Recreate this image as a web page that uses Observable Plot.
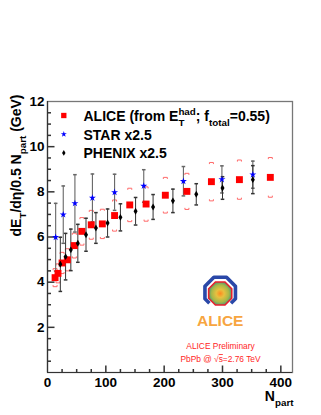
<!DOCTYPE html>
<html><head><meta charset="utf-8">
<script src="https://cdn.jsdelivr.net/npm/d3@7"></script>
<script src="https://cdn.jsdelivr.net/npm/@observablehq/plot@0.6"></script>
<style>body{margin:0;background:#fff;} svg{display:block;}</style>
</head><body><div id="chart"></div>
<script>
// ---- data ----
const aliceNpart = [13, 18, 25, 34, 46, 59, 75, 94, 115, 141, 169, 202, 239, 281, 329, 382];
const aliceEt    = [4.20, 4.39, 4.85, 4.99, 5.62, 6.25, 6.54, 6.58, 6.95, 7.42, 7.46, 7.85, 8.02, 8.45, 8.54, 8.64];
const aliceSys   = [0.40, 0.42, 0.47, 0.49, 0.55, 0.61, 0.64, 0.65, 0.69, 0.74, 0.76, 0.79, 0.80, 0.85, 0.87, 0.88];
const starNpart  = [14, 27, 47, 77, 115, 165, 233, 299, 352];
const starEt     = [5.99, 6.99, 7.49, 7.73, 7.98, 8.26, 8.47, 8.55, 8.76];
const starErr    = [1.50, 1.27, 1.27, 1.06, 0.80, 0.72, 0.65, 0.60, 0.60];
const phenixNpart = [22, 31, 40, 52, 66, 83, 103, 125, 151, 181, 215, 255, 300, 352];
const phenixEt    = [4.79, 5.13, 5.43, 5.72, 6.10, 6.40, 6.62, 6.87, 7.14, 7.33, 7.60, 7.89, 8.17, 8.54];
const phenixErr   = [1.20, 1.03, 0.92, 0.84, 0.73, 0.68, 0.62, 0.60, 0.61, 0.55, 0.52, 0.47, 0.50, 0.62];

const xTickLabels = [0, 100, 200, 300, 400];
const yTickLabels = [2, 4, 6, 8, 10, 12];
const legendLabels = ["ALICE (from E_{T}^{had}; f_{total}=0.55)", "STAR x2.5", "PHENIX x2.5"];
const legendColors = ["#ff0000", "#0000ff", "#000000"];
const legendSymbols = ["square", "star", "diamond"];
const yTitle = "dE_{T}/dη/0.5 N_{part} (GeV)";
const xTitle = "N_{part}";
const noteLines = ["ALICE Preliminary", "PbPb @ √~{s}=2.76 TeV"];
const logoText = "ALICE";

// ---- tables ----
const aliceRows = aliceNpart.map((n, i) => ({n, y: aliceEt[i], sys: aliceSys[i]}));
const starRows = starNpart.map((n, i) => ({n, y: starEt[i], e: starErr[i]}));
const phenixRows = phenixNpart.map((n, i) => ({n, y: phenixEt[i], e: phenixErr[i]}));

const xMinor = d3.range(25, 420, 25).filter(v => v % 100 !== 0);
const yMinor = d3.range(0.5, 12, 0.5).filter(v => v % 2 !== 0);
const xMajor = d3.range(100, 420, 100);
const yMajor = d3.range(2, 12, 2);

// ---- custom symbols ----
const L = s => Math.sqrt(s / Math.PI);
const tickUp = {draw(c, s) { const l = L(s); c.moveTo(0, 0); c.lineTo(0, -l); }};
const tickRight = {draw(c, s) { const l = L(s); c.moveTo(0, 0); c.lineTo(l, 0); }};
const capH = {draw(c, s) { const l = L(s); c.moveTo(-l, 0); c.lineTo(l, 0); }};
const bracketTop = {draw(c, s) { const l = L(s); c.moveTo(-l, 0.8 * l); c.lineTo(-l, 0); c.lineTo(l, 0); c.lineTo(l, 0.8 * l); }};
const bracketBottom = {draw(c, s) { const l = L(s); c.moveTo(-l, -0.8 * l); c.lineTo(-l, 0); c.lineTo(l, 0); c.lineTo(l, -0.8 * l); }};
const oct = (R, k) => { const a = (22.5 + 45 * k) * Math.PI / 180; return [R * Math.cos(a), R * Math.sin(a)]; };
const octagon = {draw(c, s) { const R = L(s); for (let k = 0; k < 8; k++) { const [x, y] = oct(R, k); k ? c.lineTo(x, y) : c.moveTo(x, y); } c.closePath(); }};
const hood = {draw(c, s) {
  const R = L(s);
  const [x2, y2] = oct(R, 2), [x3, y3] = oct(R, 3), [x0, y0] = oct(R, 0), [x1, y1] = oct(R, 1);
  c.moveTo((x2 + x3) / 2, (y2 + y3) / 2);
  for (const k of [3, 4, 5, 6, 7, 0]) { const [x, y] = oct(R, k); c.lineTo(x, y); }
  c.lineTo((x0 + x1) / 2, (y0 + y1) / 2);
}};

const FONT = "'Liberation Sans', Arial, Helvetica, sans-serif";
const RED = "#ff2626";

const legendMarks = legendLabels.flatMap((lab, i) => [
  Plot.dot([lab], {frameAnchor: "top-left", dx: 16.3, dy: 14 + i * 18.7, symbol: legendSymbols[i],
    r: [3, 1.9, 1.8][i], fill: legendColors[i]}),
  Plot.text([lab], {text: d => d, frameAnchor: "top-left", dx: 36, dy: 19.5 + i * 18.7,
    textAnchor: "start", lineAnchor: "bottom", fontSize: 14, fontWeight: "bold", fill: "#000"})
]);

const chart = Plot.plot({
  width: 321, height: 415,
  marginLeft: 47, marginRight: 29, marginTop: 101, marginBottom: 43,
  x: {domain: [0, 420]},
  y: {domain: [0, 12]},
  style: {fontFamily: FONT, background: "#fff", color: "#000", overflow: "visible"},
  marks: [
    Plot.frame({stroke: "#777", strokeWidth: 1.3}),
    Plot.ruleX([0], {stroke: "#333", strokeWidth: 1.2}),
    Plot.ruleY([0], {stroke: "#333", strokeWidth: 1.2}),
    // ticks (inward)
    Plot.dot(xMajor, {x: d => d, frameAnchor: "bottom", symbol: tickUp, r: 7, stroke: "#333", fill: "none"}),
    Plot.dot(xMinor, {x: d => d, frameAnchor: "bottom", symbol: tickUp, r: 3.5, stroke: "#333", fill: "none"}),
    Plot.dot(yMajor, {y: d => d, frameAnchor: "left", symbol: tickRight, r: 7, stroke: "#333", fill: "none"}),
    Plot.dot(yMinor, {y: d => d, frameAnchor: "left", symbol: tickRight, r: 3.5, stroke: "#333", fill: "none"}),
    Plot.axisX({ticks: xTickLabels, tickSize: 0, tickPadding: 5, fontSize: 13.5, fontWeight: "bold", label: null}),
    Plot.axisY({ticks: yTickLabels, tickSize: 0, tickPadding: 3, fontSize: 13.5, fontWeight: "bold", label: null}),
    // ALICE systematic brackets
    Plot.dot(aliceRows, {x: "n", y: d => d.y + d.sys, symbol: bracketTop, r: 2, stroke: "#ff6a6a", fill: "none", strokeWidth: 1}),
    Plot.dot(aliceRows, {x: "n", y: d => d.y - d.sys, symbol: bracketBottom, r: 2, stroke: "#ff6a6a", fill: "none", strokeWidth: 1}),
    // STAR error bars
    Plot.ruleX(starRows, {x: "n", y1: d => d.y - d.e, y2: d => d.y + d.e, stroke: "#666", strokeWidth: 1.1}),
    Plot.dot(starRows, {x: "n", y: d => d.y + d.e, symbol: capH, r: 1.8, stroke: "#666", fill: "none"}),
    Plot.dot(starRows, {x: "n", y: d => d.y - d.e, symbol: capH, r: 1.8, stroke: "#666", fill: "none"}),
    // PHENIX error bars
    Plot.ruleX(phenixRows, {x: "n", y1: d => d.y - d.e, y2: d => d.y + d.e, stroke: "#333", strokeWidth: 1}),
    Plot.dot(phenixRows, {x: "n", y: d => d.y + d.e, symbol: capH, r: 1.8, stroke: "#333", fill: "none"}),
    Plot.dot(phenixRows, {x: "n", y: d => d.y - d.e, symbol: capH, r: 1.8, stroke: "#333", fill: "none"}),
    // markers
    Plot.dot(aliceRows, {x: "n", y: "y", symbol: "square", r: 3.9, fill: "#ff0000"}),
    Plot.dot(starRows, {x: "n", y: "y", symbol: "star", r: 2.2, fill: "#0000ff"}),
    Plot.dot(phenixRows, {x: "n", y: "y", symbol: "diamond", r: 2.1, fill: "#000"}),
    // legend
    ...legendMarks,
    // axis titles
    Plot.text([yTitle], {text: d => d, frameAnchor: "top-left", dx: -26.5, dy: -7, rotate: -90,
      textAnchor: "end", lineAnchor: "bottom", fontSize: 14, fontWeight: "bold"}),
    Plot.text([xTitle], {text: d => d, frameAnchor: "bottom-right", dx: 1, dy: 28.7,
      textAnchor: "end", lineAnchor: "bottom", fontSize: 14, fontWeight: "bold"}),
    // ALICE logo
    Plot.dot([logoText], {frameAnchor: "top-left", dx: 172.7, dy: 191, symbol: hood, r: 16.5,
      stroke: "#2a48a8", strokeWidth: 3.6, fill: "none", strokeLinejoin: "round"}),
    Plot.dot([logoText], {frameAnchor: "top-left", dx: 172.7, dy: 192, symbol: octagon, r: 12.5,
      stroke: "#e8202c", strokeWidth: 1.6, fill: "url(#aliceGrad)"}),
    Plot.text([logoText], {text: d => d, frameAnchor: "top-left", dx: 172.7, dy: 224.5,
      textAnchor: "middle", lineAnchor: "bottom", fontSize: 15.5, fontWeight: "bold", fill: "#f7a540"}),
    // notes
    ...noteLines.map((t, i) => Plot.text([t], {text: d => d, frameAnchor: "top-left", dx: 173, dy: 247 + i * 13.5,
      textAnchor: "middle", lineAnchor: "bottom", fontSize: 8.4, fill: RED}))
  ]
});
document.getElementById("chart").append(chart);

// gradient for logo
const defs = d3.select(chart).insert("defs", ":first-child");
const g = defs.append("radialGradient").attr("id", "aliceGrad");
[["0%", "#ff8a20"], ["35%", "#e8c040"], ["75%", "#a8b848"], ["100%", "#5a9a70"]]
  .forEach(([o, c]) => g.append("stop").attr("offset", o).attr("stop-color", c));

// rich text: _{sub}, ^{sup}, ~{overline}
const NS = "http://www.w3.org/2000/svg";
d3.select(chart).selectAll("text").each(function() {
  const raw = this.textContent;
  if (!/[_^~]\{/.test(raw)) return;
  const fs = parseFloat(getComputedStyle(this).fontSize) || 14;
  const parts = raw.split(/([_^~]\{[^}]*\})/).filter(s => s !== "");
  this.textContent = "";
  let shift = 0, prevSub = null;
  for (const p of parts) {
    const t = document.createElementNS(NS, "tspan");
    let target = 0, small = false, isSup = false, isSub = false;
    if (p.startsWith("_{")) { target = 0.33 * fs; small = true; isSub = true; t.textContent = p.slice(2, -1); }
    else if (p.startsWith("^{")) { target = -0.45 * fs; small = true; isSup = true; t.textContent = p.slice(2, -1); }
    else if (p.startsWith("~{")) { t.textContent = p.slice(2, -1); t.setAttribute("style", "text-decoration: overline"); }
    else t.textContent = p;
    if (small) t.setAttribute("font-size", (0.7 * fs).toFixed(2));
    if (target - shift !== 0) t.setAttribute("dy", (target - shift).toFixed(2));
    shift = target;
    this.appendChild(t);
    if (isSup && prevSub) t.setAttribute("dx", (-prevSub.getComputedTextLength()).toFixed(2));
    prevSub = isSub ? t : null;
  }
});
</script></body></html>
